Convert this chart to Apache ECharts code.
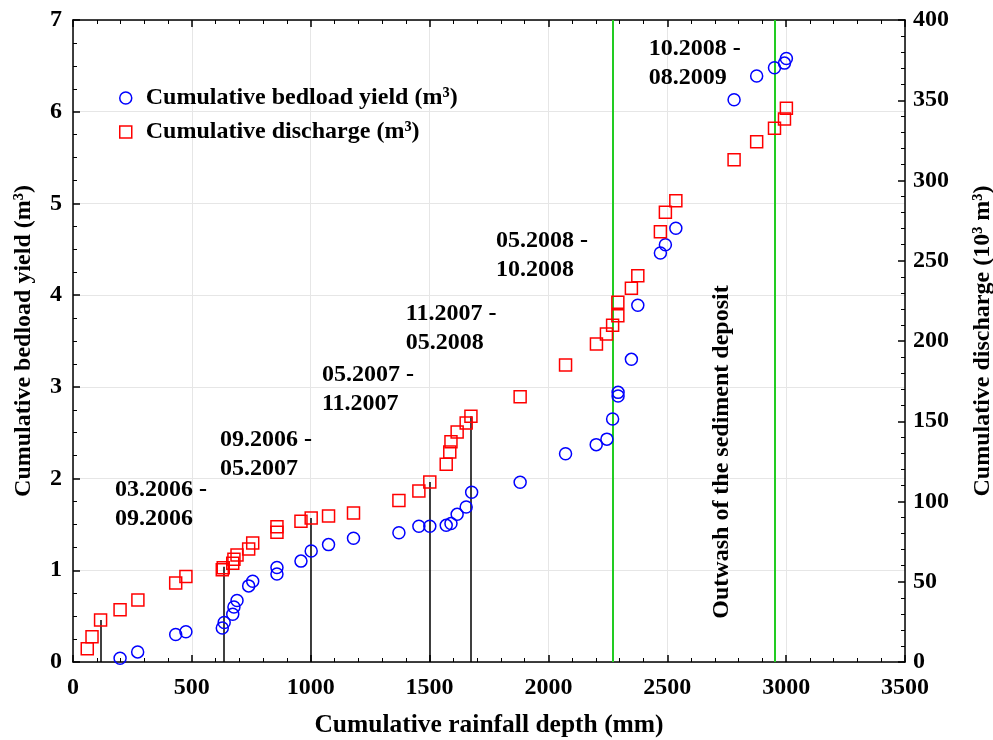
<!DOCTYPE html>
<html>
<head>
<meta charset="utf-8">
<script src="https://cdn.jsdelivr.net/npm/echarts@6/dist/echarts.min.js"></script>
<style>html,body{margin:0;padding:0;background:#fff}#c{width:993px;height:740px}</style>
</head>
<body>
<div id="c"></div>
<script>
// Cumulative rainfall depth (mm) and cumulative bedload yield (m3)
const bedX = [198, 272, 432, 475, 628, 636, 672, 677, 690, 739, 756, 858, 858, 959, 1002, 1075, 1180, 1371, 1455, 1501, 1570, 1590, 1616, 1654, 1677, 1881, 2072, 2201, 2246, 2270, 2293, 2293, 2349, 2376, 2471, 2492, 2536, 2781, 2876, 2951, 2993, 3001];
const bedY = [0.04, 0.11, 0.30, 0.33, 0.37, 0.43, 0.52, 0.60, 0.67, 0.83, 0.88, 0.96, 1.03, 1.10, 1.21, 1.28, 1.35, 1.41, 1.48, 1.48, 1.49, 1.51, 1.61, 1.69, 1.85, 1.96, 2.27, 2.37, 2.43, 2.65, 2.90, 2.94, 3.30, 3.89, 4.46, 4.55, 4.73, 6.13, 6.39, 6.48, 6.53, 6.58];
// Cumulative rainfall depth (mm) and cumulative discharge (10^3 m3)
const disX = [60, 80, 116, 198, 273, 432, 475, 628, 632, 672, 677, 690, 739, 756, 858, 858, 959, 1002, 1075, 1180, 1371, 1455, 1501, 1570, 1585, 1590, 1616, 1654, 1674, 1881, 2072, 2202, 2244, 2270, 2292, 2292, 2349, 2376, 2471, 2492, 2536, 2781, 2876, 2951, 2993, 3001];
const disY = [8.3, 15.8, 26.2, 32.6, 38.6, 49.2, 53.2, 57.5, 58.8, 61.5, 64.0, 66.7, 70.4, 74.1, 80.8, 84.3, 87.7, 89.7, 91.0, 92.8, 100.7, 106.5, 112.1, 123.2, 130.8, 137.3, 143.3, 148.9, 153.1, 165.3, 185.0, 198.1, 204.4, 209.8, 215.8, 224.1, 232.8, 240.7, 268.1, 280.2, 287.4, 313.0, 324.2, 332.5, 338.3, 345.0];
// Period separators (rainfall, discharge top)
const sepX = [116, 636, 1002, 1501, 1674];
const sepTop = [26.2, 59.4, 89.7, 112.1, 153.1];
// Outwash vertical lines
const greenX = [2270, 2951];
// Period labels (anchored in left-axis coordinates)
const periodText = ["03.2006 -\n09.2006", "09.2006 -\n05.2007", "05.2007 -\n11.2007", "11.2007 -\n05.2008", "05.2008 -\n10.2008", "10.2008 -\n08.2009"];
const periodX = [177, 618, 1047, 1400, 1779, 2422];
const periodY = [1.72, 2.26, 2.97, 3.64, 4.43, 6.53];
const outwashText = "Outwash of the sediment deposit";
const outwashPos = [2729, 2.29];

const FONT = "'Liberation Serif', 'Times New Roman', serif";
const chart = echarts.init(document.getElementById('c'), null, {renderer: 'canvas'});
const axisLineStyle = {color: '#000', width: 1.5};
const tickLabel = {color: '#000', fontFamily: FONT, fontWeight: 'bold', fontSize: 24};
const nameStyle = {color: '#000', fontFamily: FONT, fontWeight: 'bold', fontSize: 24};
const plain = v => String(v);

const option = {
  animation: false,
  backgroundColor: '#fff',
  grid: {left: 73, right: 88, top: 20, bottom: 78, containLabel: false, outerBoundsMode: 'none'},
  legend: {
    orient: 'vertical', left: 114, top: 81, itemGap: 10, itemWidth: 12, itemHeight: 12,
    textStyle: {color: '#000', fontFamily: FONT, fontWeight: 'bold', fontSize: 24, lineHeight: 24, padding: [0, 0, 0, 9]},
    data: [
      {name: 'Cumulative bedload yield (m³)', icon: 'circle', itemStyle: {color: 'transparent', borderColor: '#0000ff', borderWidth: 1.5}},
      {name: 'Cumulative discharge (m³)', icon: 'rect', itemStyle: {color: 'transparent', borderColor: '#ff0000', borderWidth: 1.5}}
    ]
  },
  xAxis: [
    {type: 'value', position: 'bottom', min: 0, max: 3500, interval: 500,
     name: 'Cumulative rainfall depth (mm)', nameLocation: 'middle', nameGap: 50,
     nameTextStyle: Object.assign({}, nameStyle, {fontSize: 25.5}),
     axisLine: {show: true, onZero: false, lineStyle: axisLineStyle},
     axisTick: {show: true, inside: true, length: 7, lineStyle: axisLineStyle},
     minorTick: {show: true, splitNumber: 5, length: 4, lineStyle: {color: '#000', width: 1}},
     axisLabel: Object.assign({margin: 14, formatter: plain}, tickLabel),
     splitLine: {show: true, lineStyle: {color: '#e6e6e6', width: 1}}},
    {type: 'value', position: 'top', min: 0, max: 3500, interval: 500,
     axisLine: {show: true, onZero: false, lineStyle: axisLineStyle},
     axisTick: {show: true, inside: true, length: 7, lineStyle: axisLineStyle},
     minorTick: {show: true, splitNumber: 5, length: 4, lineStyle: {color: '#000', width: 1}},
     axisLabel: {show: false}, splitLine: {show: false}}
  ],
  yAxis: [
    {type: 'value', position: 'left', min: 0, max: 7, interval: 1,
     name: 'Cumulative bedload yield (m³)', nameLocation: 'middle', nameRotate: 90, nameGap: 37, nameTextStyle: nameStyle,
     axisLine: {show: true, onZero: false, lineStyle: axisLineStyle},
     axisTick: {show: true, inside: true, length: 7, lineStyle: axisLineStyle},
     minorTick: {show: true, splitNumber: 4, length: 4, lineStyle: {color: '#000', width: 1}},
     axisLabel: Object.assign({margin: 11, formatter: plain}, tickLabel),
     splitLine: {show: true, lineStyle: {color: '#e6e6e6', width: 1}}},
    {type: 'value', position: 'right', min: 0, max: 400, interval: 50,
     name: 'Cumulative discharge (10³ m³)', nameLocation: 'middle', nameRotate: 90, nameGap: 66, nameTextStyle: nameStyle,
     axisLine: {show: true, onZero: false, lineStyle: axisLineStyle},
     axisTick: {show: true, inside: true, length: 7, lineStyle: axisLineStyle},
     minorTick: {show: true, splitNumber: 5, length: 4, lineStyle: {color: '#000', width: 1}},
     axisLabel: Object.assign({margin: 8, formatter: plain}, tickLabel),
     splitLine: {show: false}}
  ],
  series: [
    {name: 'Cumulative bedload yield (m³)', type: 'scatter', xAxisIndex: 0, yAxisIndex: 0,
     symbol: 'circle', symbolSize: 12, z: 5,
     itemStyle: {color: 'transparent', borderColor: '#0000ff', borderWidth: 1.5, opacity: 1},
     data: bedX.map((x, i) => [x, bedY[i]]),
     markLine: {silent: true, symbol: 'none', label: {show: false},
       lineStyle: {color: '#22cc22', width: 2, type: 'solid'},
       data: greenX.map(x => ({xAxis: x}))}},
    {name: 'Cumulative discharge (m³)', type: 'scatter', xAxisIndex: 0, yAxisIndex: 1,
     symbol: 'rect', symbolSize: 12, z: 5,
     itemStyle: {color: 'transparent', borderColor: '#ff0000', borderWidth: 1.5, opacity: 1},
     data: disX.map((x, i) => [x, disY[i]]),
     markLine: {silent: true, symbol: 'none', label: {show: false},
       lineStyle: {color: '#000', width: 1.5, type: 'solid'},
       data: sepX.map((x, i) => [{coord: [x, 0]}, {coord: [x, sepTop[i]]}])}},
    {name: 'periods', type: 'scatter', xAxisIndex: 0, yAxisIndex: 0, symbolSize: 0, silent: true, z: 6,
     itemStyle: {opacity: 1},
     data: periodX.map((x, i) => ({value: [x, periodY[i]], label: {formatter: periodText[i]}})),
     label: {show: true, position: 'right', distance: 0, align: 'left', verticalAlign: 'middle',
       color: '#000', fontFamily: FONT, fontWeight: 'bold', fontSize: 24, lineHeight: 29}},
    {name: 'outwash', type: 'scatter', xAxisIndex: 0, yAxisIndex: 0, symbolSize: 0, silent: true, z: 6,
     itemStyle: {opacity: 1},
     data: [{value: outwashPos, label: {formatter: outwashText}}],
     label: {show: true, position: 'inside', rotate: 90, align: 'center', verticalAlign: 'middle',
       color: '#000', fontFamily: FONT, fontWeight: 'bold', fontSize: 24}}
  ]
};
chart.setOption(option);
</script>
</body>
</html>
